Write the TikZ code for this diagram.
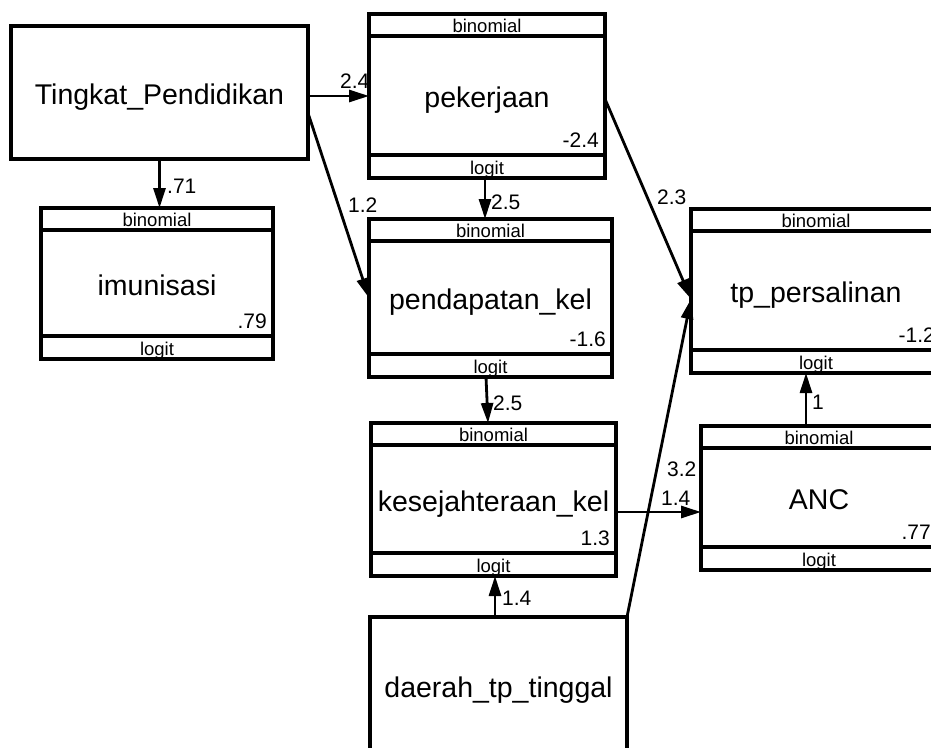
\documentclass[tikz,border=0pt]{standalone}
\usepackage{fontspec}
\setmainfont{Liberation Sans}
\usetikzlibrary{arrows.meta,fit,calc}
\tikzset{
  boxframe/.style={draw, line width=3.4pt, inner sep=0pt, outer sep=0pt},
  bandline/.style={line width=3.4pt},
  mainlabel/.style={font=\fontsize{28.5}{30}\selectfont, inner sep=0pt, anchor=base},
  bandlabel/.style={font=\fontsize{18.5}{20}\selectfont, inner sep=0pt, anchor=base},
  valuelabel/.style={font=\fontsize{21}{22}\selectfont, inner sep=0pt, anchor=base east},
  edgelabel/.style={font=\fontsize{21}{22}\selectfont, inner sep=0pt, anchor=base west},
  conn/.style={line width=2.8pt, -{Triangle[length=20pt,width=12pt]}},
}
\newcommand{\varbox}[7]{%
  \coordinate (#1-a) at (#2,#3);
  \coordinate (#1-b) at (#4,#5);
  \node[boxframe, fit=(#1-a)(#1-b)] (#1) {};
  \draw[bandline] ([yshift=-22pt]#1.north west) -- ([yshift=-22pt]#1.north east);
  \draw[bandline] ([yshift=23pt]#1.south west) -- ([yshift=23pt]#1.south east);
  \node[bandlabel] (#1-top) at ([yshift=-18.5pt]#1.north) {binomial};
  \node[bandlabel] (#1-bot) at ([yshift=4pt]#1.south) {logit};
  \node[mainlabel] (#1-txt) at ([yshift=-11.5pt]#1.center) {#6};
  \node[valuelabel] (#1-val) at ([xshift=-6pt,yshift=31pt]#1.south east) {#7};
}
\newcommand{\plainbox}[6]{%
  \coordinate (#1-a) at (#2,#3);
  \coordinate (#1-b) at (#4,#5);
  \node[boxframe, fit=(#1-a)(#1-b)] (#1) {};
  \node[mainlabel] (#1-txt) at ([yshift=-11.5pt]#1.center) {#6};
}
\begin{document}
\begin{tikzpicture}[x=1pt,y=-1pt]
  \useasboundingbox (0,0) rectangle (931,747);
  \clip (0,0) rectangle (931,747);
  \fill[white] (0,0) rectangle (931,747);

  \plainbox{tingkat}{11}{26}{308}{159}{Tingkat\_Pendidikan}
  \varbox{pek}{369}{14}{605}{178}{pekerjaan}{-2.4}
  \varbox{imun}{41}{208}{273}{359}{imunisasi}{.79}
  \varbox{pend}{369}{219}{612}{377}{pendapatan\_kel}{-1.6}
  \varbox{tp}{691}{209}{941}{373}{tp\_persalinan}{-1.2}
  \varbox{kes}{371}{423}{616}{576}{kesejahteraan\_kel}{1.3}
  \varbox{anc}{701}{426}{937}{570}{ANC}{.77}
  \plainbox{daerah}{370}{617}{627}{754}{daerah\_tp\_tinggal}

  \coordinate (tpin) at ([yshift=-8pt]tp.west);

  \draw[conn] (tingkat.east |- pek.west) -- (pek.west);
  \draw[conn] ([yshift=-20.5pt]tingkat.east) -- (pend.west);
  \draw[conn] (tingkat.south) -- (tingkat.south |- imun.north);
  \draw[conn] ([xshift=-2pt]pek.south) -- ([xshift=-2pt]pek.south |- pend.north);
  \draw[conn] ([yshift=-3pt]pek.east) -- (tpin);
  \draw[conn] ([xshift=-4.5pt]pend.south) -- ([xshift=-5.5pt]kes.north);
  \draw[conn] ([yshift=-12.5pt]kes.east) -- ([yshift=-12.5pt]kes.east -| anc.west);
  \draw[conn] (daerah.north east) -- (tpin);
  \draw[conn] ([xshift=-3.5pt]daerah.north) -- ([xshift=-3.5pt]daerah.north |- kes.south);
  \draw[conn] ([xshift=-13pt]anc.north) -- ([xshift=-13pt]anc.north |- tp.south);

  \node[edgelabel] (l1) at (340,88) {2.4};
  \node[edgelabel] (l2) at (348,212) {1.2};
  \node[edgelabel] (l3) at (167,193) {.71};
  \node[edgelabel] (l4) at (491,209) {2.5};
  \node[edgelabel] (l5) at (657,204) {2.3};
  \node[edgelabel] (l6) at (493,410) {2.5};
  \node[edgelabel] (l7) at (661,505) {1.4};
  \node[edgelabel] (l8) at (667,476) {3.2};
  \node[edgelabel] (l9) at (502,605) {1.4};
  \node[edgelabel] (l10) at (812,409) {1};
\end{tikzpicture}
\end{document}
